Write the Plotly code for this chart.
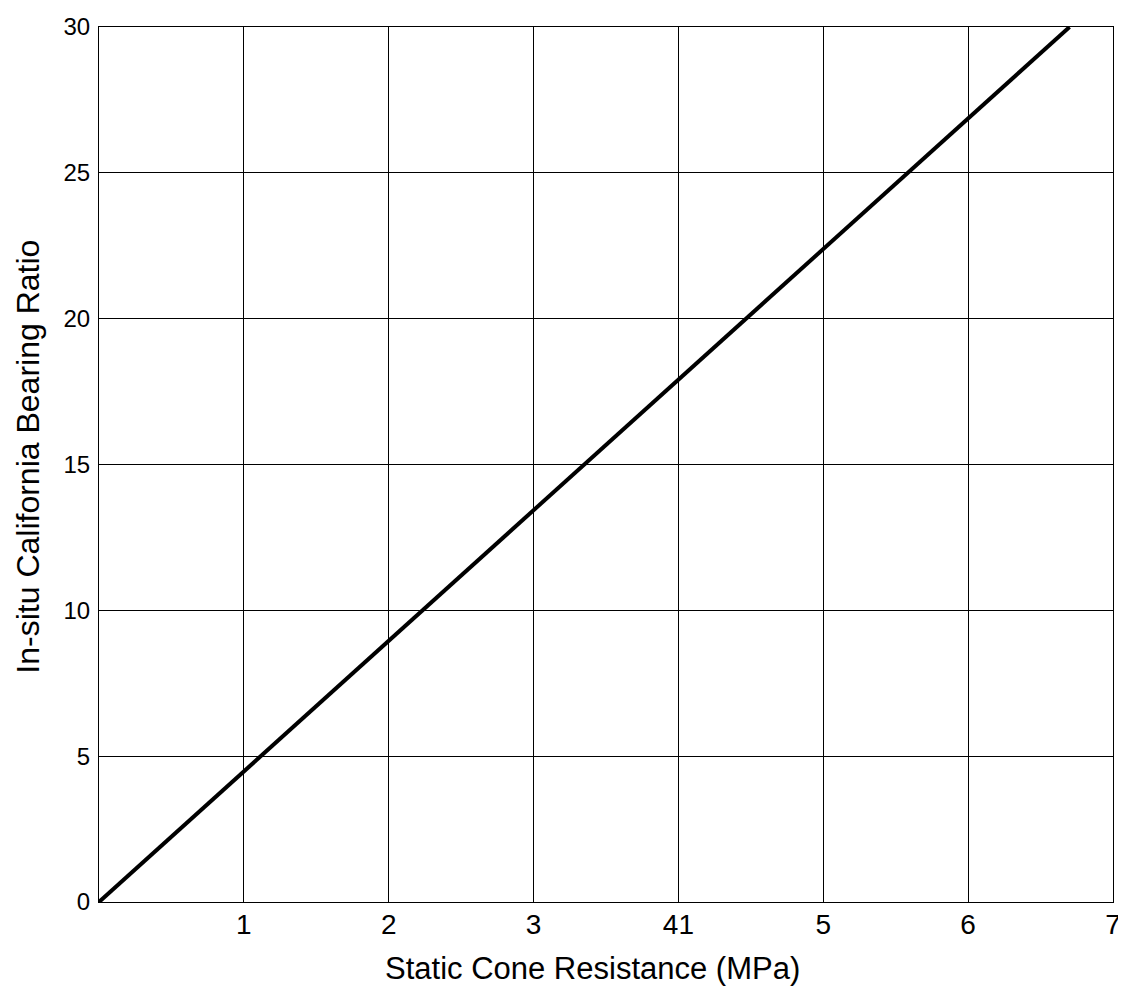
import plotly.graph_objects as go

# Data
x_vals = [0, 6.7]
y_vals = [0, 30]
x_ticks = [1, 2, 3, 4, 5, 6, 7]
x_tick_labels = ["1", "2", "3", "41", "5", "6", "7"]
y_ticks = [0, 5, 10, 15, 20, 25, 30]
y_tick_labels = ["0", "5", "10", "15", "20", "25", "30"]
x_title = "Static Cone Resistance (MPa)"
y_title = "In-situ California Bearing Ratio"

fig = go.Figure()
fig.add_trace(go.Scatter(x=x_vals, y=y_vals, mode="lines",
                         line=dict(color="black", width=4), showlegend=False))

font = "Liberation Sans, Arial, sans-serif"
# page body has an 8px margin; figure sized/offset to compensate
fig.update_layout(
    width=1118, height=982,
    margin=dict(l=91, r=13, t=19, b=88),
    plot_bgcolor="white", paper_bgcolor="white",
    font=dict(family=font, color="black"),
    annotations=[
        dict(text=x_title, xref="paper", yref="paper", x=0.487, y=0,
             xanchor="center", yanchor="middle", yshift=-66, showarrow=False,
             font=dict(size=31, family=font, color="black")),
        dict(text=y_title, xref="paper", yref="paper", x=0, y=0.509,
             xanchor="center", yanchor="middle", xshift=-71, textangle=-90,
             showarrow=False, font=dict(size=32, family=font, color="black")),
    ],
)
fig.update_xaxes(range=[0, 7], tickvals=x_ticks, ticktext=x_tick_labels,
                 showgrid=True, gridcolor="black", gridwidth=1,
                 showline=True, linecolor="black", linewidth=1, mirror=True,
                 zeroline=False, ticks="", tickfont=dict(size=28), automargin=False,
                 ticklabelstandoff=-3)
fig.update_yaxes(range=[0, 30], tickvals=y_ticks, ticktext=y_tick_labels,
                 showgrid=True, gridcolor="black", gridwidth=1,
                 showline=True, linecolor="black", linewidth=1, mirror=True,
                 zeroline=False, ticks="", tickfont=dict(size=24), automargin=False,
                 ticklabelstandoff=3)

fig.write_html("out.html")
